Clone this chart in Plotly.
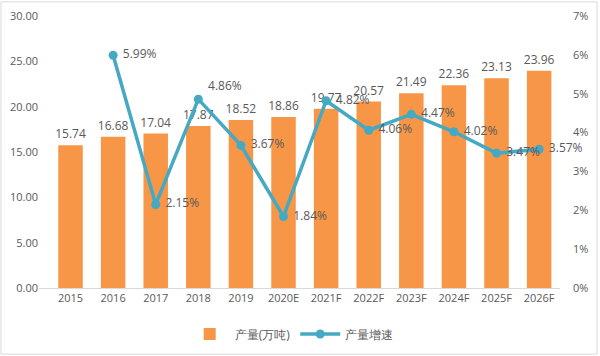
import plotly.graph_objects as go

categories = ["2015", "2016", "2017", "2018", "2019", "2020E", "2021F", "2022F",
              "2023F", "2024F", "2025F", "2026F"]
output_vals = [15.74, 16.68, 17.04, 17.87, 18.52, 18.86, 19.77, 20.57, 21.49, 22.36, 23.13, 23.96]
growth_cats = ["2016", "2017", "2018", "2019", "2020E", "2021F", "2022F", "2023F",
               "2024F", "2025F", "2026F"]
growth_vals = [5.99, 2.15, 4.86, 3.67, 1.84, 4.82, 4.06, 4.47, 4.02, 3.47, 3.57]
left_ticks = [0, 5, 10, 15, 20, 25, 30]
right_ticks = [0, 1, 2, 3, 4, 5, 6, 7]

FONT = "Open Sans"
GRAY = "#595959"
ORANGE = "#F79646"
TEAL = "#45A9C3"

idx = {c: i for i, c in enumerate(categories)}
gx = [idx[c] for c in growth_cats]
pos = ["top right" if c == "2018" else "middle right" for c in growth_cats]

fig = go.Figure()
fig.add_trace(go.Bar(
    x=list(range(len(categories))), y=output_vals, name="产量(万吨)",
    marker=dict(color=ORANGE, line=dict(width=0)),
    text=[f"{v:.2f}" for v in output_vals], textposition="outside",
    constraintext="none",
    textfont=dict(family=FONT, size=12, color=GRAY), cliponaxis=False,
    width=0.575,
))
fig.add_trace(go.Scatter(
    x=gx, y=growth_vals, name="产量增速", yaxis="y2",
    mode="lines+markers+text",
    line=dict(color=TEAL, width=3.5),
    marker=dict(color=TEAL, size=9),
    text=[f" {v:.2f}%" for v in growth_vals], textposition=pos,
    textfont=dict(family=FONT, size=12, color=GRAY), cliponaxis=False,
))

fig.update_layout(
    width=600, height=356,
    margin=dict(l=39, r=40, t=16, b=68, autoexpand=False),
    paper_bgcolor="white", plot_bgcolor="white",
    font=dict(family=FONT, size=11, color=GRAY),
    showlegend=True,
    legend=dict(orientation="h", x=0.485, xanchor="center", y=-0.169, yanchor="middle",
                font=dict(family=FONT, size=12, color=GRAY), itemwidth=40,
                traceorder="normal"),
    xaxis=dict(tickmode="array", tickvals=list(range(len(categories))), ticktext=categories,
               range=[-0.74, 11.49], showgrid=False, zeroline=False,
               showline=True, linecolor="#D9D9D9", linewidth=1, ticks="",
               tickfont=dict(family=FONT, size=11, color=GRAY)),
    yaxis=dict(range=[0, 30], tickvals=left_ticks,
               ticktext=[f"{v:.2f}" for v in left_ticks],
               showgrid=False, zeroline=False, showline=False, ticks="",
               tickfont=dict(family=FONT, size=11, color=GRAY)),
    yaxis2=dict(range=[0, 7], tickvals=right_ticks, ticktext=[f"{v}%" for v in right_ticks],
                overlaying="y", side="right", showgrid=False, zeroline=False,
                showline=False, ticks="", ticklabelstandoff=12,
                tickfont=dict(family=FONT, size=11, color=GRAY)),
    bargap=0.4,
)
fig.add_shape(type="rect", xref="paper", yref="paper",
              x0=-0.073, x1=1.071, y0=-0.243, y1=1.052,
              line=dict(color="#D9D9D9", width=1), layer="below")
fig.write_html("out.html", config={"displayModeBar": False},
               post_script="document.body.style.margin='0';")
